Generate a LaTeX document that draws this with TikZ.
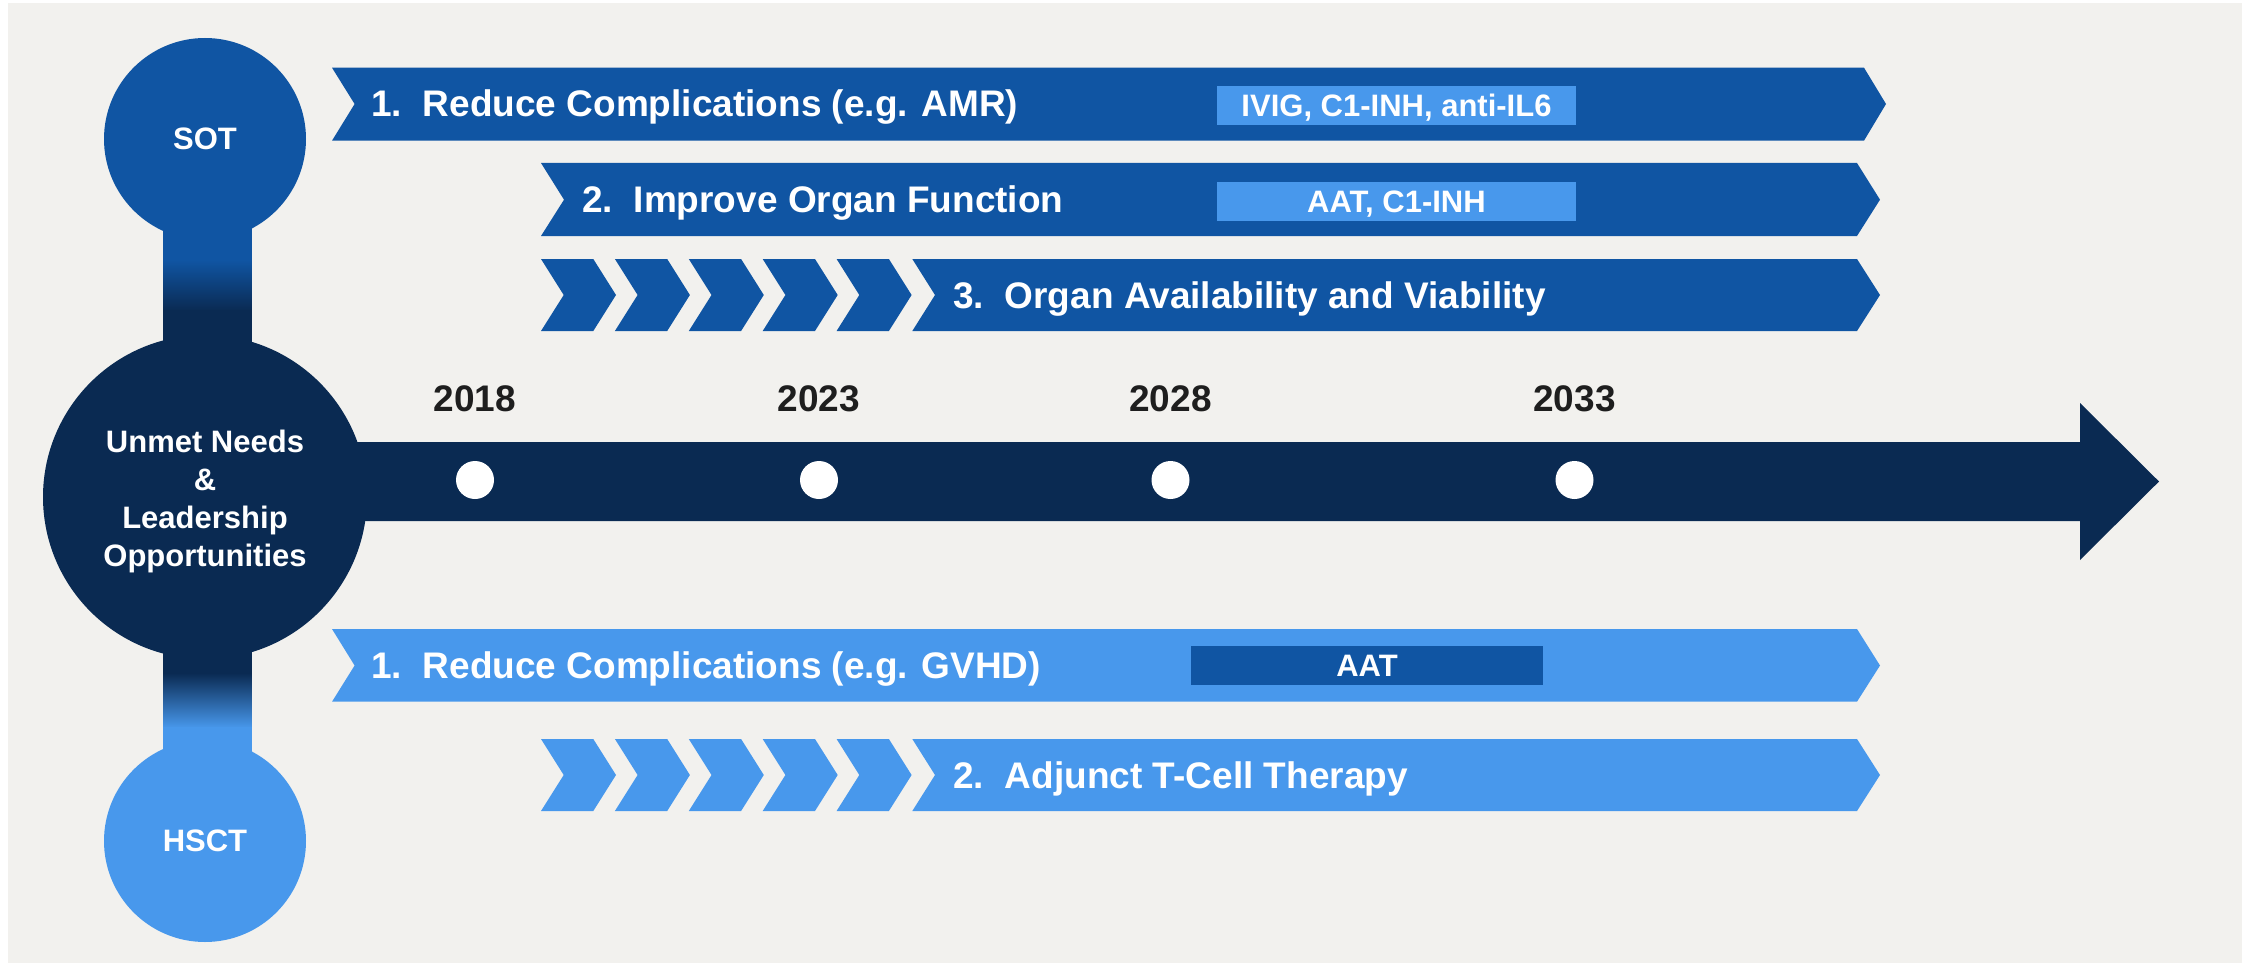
\documentclass[tikz,border=0pt]{standalone}
\usepackage{fontspec}
\setmainfont{Liberation Sans}
\definecolor{bg}{HTML}{F2F1EE}
\definecolor{sotblue}{HTML}{1055A3}
\definecolor{navy}{HTML}{0A2A52}
\definecolor{hsctblue}{HTML}{4898EC}
\definecolor{yearcol}{HTML}{1E1E1E}
\begin{document}
\begin{tikzpicture}[x=0.5pt,y=-0.5pt,
  bannertext/.style={anchor=base west, text=white, inner sep=0pt, font=\fontsize{18.5}{22}\selectfont\bfseries},
  yearlabel/.style={anchor=base, text=yearcol, inner sep=0pt, font=\fontsize{18.5}{22}\selectfont\bfseries},
  drugbox/.style={inner sep=0pt, text=white, text height=11.1pt, text depth=0pt, minimum height=19.35pt, font=\fontsize{15.5}{18}\selectfont\bfseries},
  hub/.style={circle, inner sep=0pt, text=white, font=\fontsize{15.5}{19}\selectfont\bfseries},
  yeardot/.style={circle, fill=white, minimum size=19pt, inner sep=0pt},
]
\useasboundingbox (0,0) rectangle (2249,963);
\fill[white] (0,0) rectangle (2249,963);
\fill[bg] (8,3) rectangle (2242,963);

% necks with gradients
\fill[sotblue] (163,200) rectangle (251.5,261);
\shade[top color=sotblue, bottom color=navy] (163,260) rectangle (251.5,311);
\fill[navy] (163,310) rectangle (251.5,400);
\fill[navy] (163,600) rectangle (251.5,674);
\shade[top color=navy, bottom color=hsctblue] (163,673) rectangle (251.5,728);
\fill[hsctblue] (163,727) rectangle (251.5,800);

% timeline arrow
\fill[navy] (205,442) -- (2080,442) -- (2080,403) -- (2159,481.5) -- (2080,560) -- (2080,521) -- (205,521) -- cycle;

% hubs
\node[hub, fill=sotblue, minimum size=101pt] (sot) at (205,139) {SOT};
\node[hub, fill=hsctblue, minimum size=101pt] (hsct) at (205,841) {HSCT};
\node[hub, fill=navy, minimum size=162pt] (unmet) at (205,497) {};
\node[text=white, align=center, inner sep=0pt, font=\fontsize{15.5}{19}\selectfont\bfseries] (unmettext) at (205,501) {Unmet Needs\\\&\\Leadership\\Opportunities};

% year dots and labels
\foreach \x/\yr [count=\i] in {475/2018, 819/2023, 1170.5/2028, 1574.5/2033} {
  \node[yeardot] (dot\i) at (\x,480) {};
  \node[yearlabel] (year\i) at (\x,411.5) {\yr};
}

% SOT banners
\fill[sotblue] (332,67.7) -- (1864,67.7) -- (1886,104) -- (1864,140.7) -- (332,140.7) -- (354.6,104) -- cycle;
\fill[sotblue] (541,163) -- (1857,163) -- (1880,199.7) -- (1857,236) -- (541,236) -- (564,199.7) -- cycle;
\foreach \k in {0,...,4} {
  \fill[sotblue] ({541+73.9*\k},259) -- ++(52.3,0) -- ++(22.7,36) -- ++(-22.7,36) -- ++(-52.3,0) -- ++(22.7,-36) -- cycle;
}
\fill[sotblue] (912.3,259) -- (1857,259) -- (1880,295) -- (1857,331) -- (912.3,331) -- (935,295) -- cycle;

\node[bannertext] (s1) at (371,116.5) {1.~~Reduce Complications (e.g. AMR)};
\node[bannertext] (s2) at (582,212.5) {2.~~Improve Organ Function};
\node[bannertext] (s3) at (953,308) {3.~~Organ Availability and Viability};
\node[drugbox, fill=hsctblue, minimum width=179.5pt] (d1) at (1396.5,105.4) {IVIG, C1-INH, anti-IL6};
\node[drugbox, fill=hsctblue, minimum width=179.5pt] (d2) at (1396.5,201.4) {AAT, C1-INH};

% HSCT banners
\fill[hsctblue] (332,629) -- (1857,629) -- (1880,665.5) -- (1857,701.7) -- (332,701.7) -- (354.6,665.5) -- cycle;
\foreach \k in {0,...,4} {
  \fill[hsctblue] ({541+73.9*\k},739) -- ++(52.3,0) -- ++(22.7,36) -- ++(-22.7,36) -- ++(-52.3,0) -- ++(22.7,-36) -- cycle;
}
\fill[hsctblue] (912.3,739) -- (1857,739) -- (1880,775) -- (1857,811) -- (912.3,811) -- (935,775) -- cycle;

\node[bannertext] (h1) at (371,678) {1.~~Reduce Complications (e.g. GVHD)};
\node[bannertext] (h2) at (953,788) {2.~~Adjunct T-Cell Therapy};
\node[drugbox, fill=sotblue, minimum width=176pt] (d3) at (1367,665.4) {AAT};
\end{tikzpicture}
\end{document}
